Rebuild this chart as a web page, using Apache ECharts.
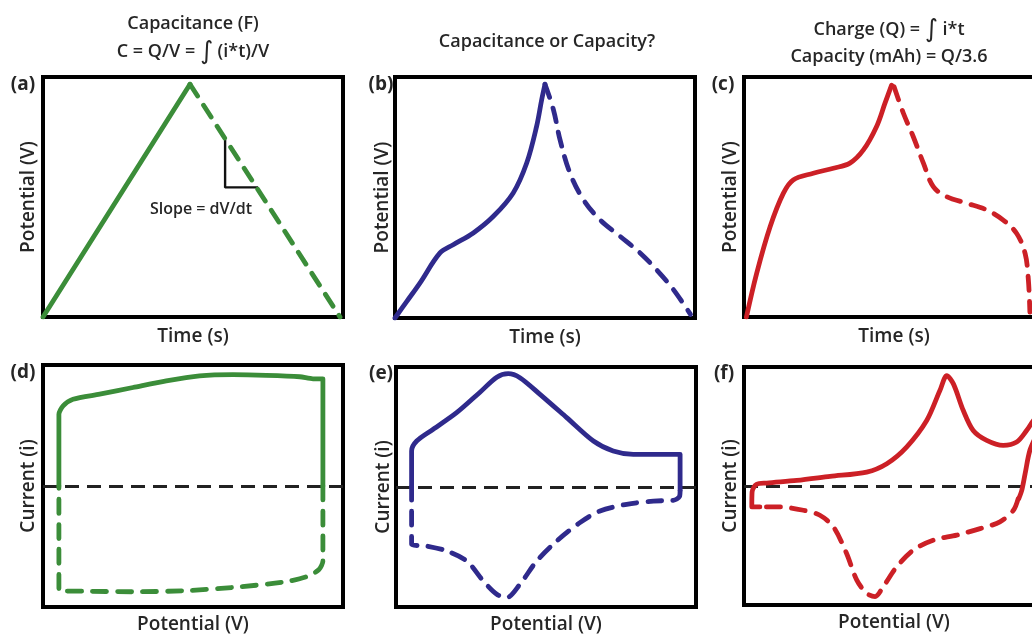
<!DOCTYPE html>
<html>
<head>
<meta charset="utf-8">
<script src="https://cdn.jsdelivr.net/npm/echarts@6/dist/echarts.min.js"></script>
<style>
  html, body { margin: 0; padding: 0; background: #fff; }
  #chart { width: 1032px; height: 634px; }
</style>
</head>
<body>
<div id="chart"></div>
<script>
// Galvanostatic charge (solid) / discharge (dashed) curves: [time, potential]
const chargeA = [[0.0, 0.0], [0.49, 0.97]];
const dischargeA = [[0.49, 0.97], [0.99, 0.0]];
const slopeMarkA = [[0.607, 0.74], [0.607, 0.54], [0.717, 0.54]];

const chargeB = [[0.0, 0.0], [0.04, 0.07], [0.083, 0.145], [0.15, 0.27], [0.194, 0.304],
  [0.261, 0.353], [0.328, 0.422], [0.394, 0.519], [0.439, 0.643], [0.472, 0.795],
  [0.489, 0.906], [0.5, 0.97]];
const dischargeB = [[0.5, 0.97], [0.528, 0.865], [0.55, 0.74], [0.583, 0.602], [0.628, 0.491],
  [0.683, 0.408], [0.75, 0.339], [0.817, 0.27], [0.872, 0.2], [0.928, 0.118], [0.985, 0.015]];

const chargeC = [[0.008, 0.0], [0.042, 0.181], [0.087, 0.376], [0.131, 0.515], [0.164, 0.571],
  [0.231, 0.599], [0.298, 0.62], [0.353, 0.641], [0.398, 0.696], [0.442, 0.794],
  [0.47, 0.891], [0.492, 0.966]];
const dischargeC = [[0.5, 0.96], [0.531, 0.85], [0.564, 0.752], [0.598, 0.641], [0.631, 0.543],
  [0.676, 0.501], [0.742, 0.474], [0.809, 0.446], [0.864, 0.404], [0.909, 0.348],
  [0.937, 0.265], [0.948, 0.153], [0.953, 0.02]];

// Cyclic voltammograms: anodic sweep (solid) / cathodic sweep (dashed): [potential, current]
const anodicD = [[0.053, 0.0], [0.053, 0.4], [0.053, 0.593], [0.067, 0.662], [0.1, 0.717],
  [0.189, 0.759], [0.3, 0.814], [0.411, 0.869], [0.522, 0.91], [0.633, 0.92],
  [0.744, 0.915], [0.856, 0.903], [0.9, 0.886], [0.933, 0.886], [0.933, 0.5], [0.933, 0.0]];
const cathodicD = [[0.933, 0.0], [0.933, -0.4], [0.933, -0.62], [0.92, -0.69], [0.878, -0.75],
  [0.8, -0.795], [0.633, -0.838], [0.467, -0.866], [0.3, -0.874], [0.133, -0.869],
  [0.053, -0.866], [0.053, -0.5], [0.053, 0.0]];

const anodicE = [[0.052, 0.0], [0.052, 0.2], [0.052, 0.3], [0.069, 0.383], [0.124, 0.481],
  [0.202, 0.619], [0.28, 0.79], [0.336, 0.915], [0.374, 0.944], [0.413, 0.911],
  [0.48, 0.772], [0.569, 0.578], [0.658, 0.383], [0.724, 0.3], [0.791, 0.272],
  [0.87, 0.272], [0.947, 0.272], [0.947, 0.1], [0.947, -0.03]];
const cathodicE = [[0.947, -0.03], [0.945, -0.08], [0.924, -0.111], [0.858, -0.117],
  [0.769, -0.144], [0.68, -0.2], [0.613, -0.297], [0.536, -0.45], [0.469, -0.617],
  [0.413, -0.811], [0.369, -0.922], [0.336, -0.894], [0.291, -0.783], [0.236, -0.617],
  [0.169, -0.533], [0.102, -0.492], [0.052, -0.478], [0.052, -0.25], [0.052, 0.0]];

const anodicF = [[0.053, -0.176], [0.026, -0.176], [0.027, -0.05], [0.042, 0.014],
  [0.076, 0.025], [0.176, 0.047], [0.287, 0.081], [0.409, 0.117], [0.476, 0.187],
  [0.542, 0.327], [0.609, 0.55], [0.653, 0.802], [0.676, 0.927], [0.698, 0.858],
  [0.731, 0.634], [0.764, 0.466], [0.809, 0.383], [0.864, 0.341], [0.909, 0.369],
  [0.942, 0.466], [0.97, 0.564], [0.992, 0.578], [0.981, 0.466], [0.953, 0.3],
  [0.937, 0.103], [0.926, -0.036], [0.916, -0.106]];
const cathodicF = [[0.914, -0.106], [0.898, -0.204], [0.853, -0.302], [0.787, -0.358],
  [0.709, -0.413], [0.631, -0.455], [0.564, -0.539], [0.509, -0.679], [0.464, -0.846],
  [0.437, -0.929], [0.409, -0.902], [0.376, -0.791], [0.342, -0.567], [0.298, -0.344],
  [0.253, -0.246], [0.198, -0.204], [0.12, -0.176], [0.053, -0.176]];

const GREEN = '#3b8d39';
const BLUE = '#2f2a8c';
const RED = '#cc2026';
const INK = '#262626';
const FONT = '"Open Sans", "Noto Sans", sans-serif';

const panels = [
  { left: 43, top: 77, width: 300, height: 240, yMin: 0, yMax: 1, xName: 'Time (s)', yName: 'Potential (V)', xGap: 10, yGap: 5 },
  { left: 395, top: 77, width: 300, height: 241, yMin: 0, yMax: 1, xName: 'Time (s)', yName: 'Potential (V)', xGap: 10, yGap: 3 },
  { left: 744, top: 77, width: 300, height: 240, yMin: 0, yMax: 1, xName: 'Time (s)', yName: 'Potential (V)', xGap: 10, yGap: 4 },
  { left: 43, top: 365, width: 300, height: 242, yMin: -1, yMax: 1, xName: 'Potential (V)', yName: 'Current (i)', xGap: 8, yGap: 5 },
  { left: 396, top: 367, width: 300, height: 240, yMin: -1, yMax: 1, xName: 'Potential (V)', yName: 'Current (i)', xGap: 8, yGap: 3 },
  { left: 744, top: 367, width: 300, height: 238, yMin: -1, yMax: 1, xName: 'Potential (V)', yName: 'Current (i)', xGap: 8, yGap: 4 }
];

const nameStyle = { color: INK, fontFamily: FONT, fontWeight: 600, fontSize: 19 };

const grid = panels.map(p => ({
  left: p.left, top: p.top, width: p.width, height: p.height,
  outerBoundsMode: 'none', containLabel: false,
  show: true, borderColor: '#000', borderWidth: 4, backgroundColor: 'transparent'
}));
const xAxis = panels.map((p, i) => ({
  type: 'value', gridIndex: i, min: 0, max: 1,
  axisLine: { show: false }, axisTick: { show: false }, axisLabel: { show: false },
  splitLine: { show: false },
  name: p.xName, nameLocation: 'middle', nameGap: p.xGap, nameTextStyle: nameStyle
}));
const yAxis = panels.map((p, i) => ({
  type: 'value', gridIndex: i, min: p.yMin, max: p.yMax,
  axisLine: { show: false }, axisTick: { show: false }, axisLabel: { show: false },
  splitLine: { show: false },
  name: p.yName, nameLocation: 'middle', nameGap: p.yGap, nameTextStyle: nameStyle
}));

function curve(idx, data, color, dashed, smooth) {
  return {
    type: 'line', xAxisIndex: idx, yAxisIndex: idx, data: data,
    showSymbol: false, symbol: 'none', smooth: smooth, silent: true,
    lineStyle: dashed
      ? { color: color, width: 4.8, type: [14, 11], cap: 'round', join: 'round' }
      : { color: color, width: 4.8, cap: 'round', join: 'round' },
    z: 3
  };
}
function zeroLine(series) {
  series.markLine = {
    silent: true, symbol: 'none', label: { show: false },
    lineStyle: { color: '#222', width: 2.8, type: [14, 8] },
    data: [{ yAxis: 0 }], z: 1
  };
  return series;
}

const series = [
  curve(0, chargeA, GREEN, false, false),
  curve(0, dischargeA, GREEN, true, false),
  { type: 'line', xAxisIndex: 0, yAxisIndex: 0, data: slopeMarkA, showSymbol: false, symbol: 'none',
    silent: true, lineStyle: { color: '#111', width: 2.4 }, z: 2 },
  curve(1, chargeB, BLUE, false, 0.35),
  curve(1, dischargeB, BLUE, true, 0.35),
  curve(2, chargeC, RED, false, 0.35),
  curve(2, dischargeC, RED, true, 0.35),
  zeroLine(curve(3, anodicD, GREEN, false, 0.25)),
  curve(3, cathodicD, GREEN, true, 0.25),
  zeroLine(curve(4, anodicE, BLUE, false, 0.3)),
  curve(4, cathodicE, BLUE, true, 0.3),
  zeroLine(curve(5, anodicF, RED, false, 0.3)),
  curve(5, cathodicF, RED, true, 0.3)
];

const richBase = {
  n: { fill: INK, fontFamily: FONT, fontWeight: 600, fontSize: 18 },
  s: { fill: INK, fontFamily: 'DejaVu Sans, sans-serif', fontWeight: 400, fontSize: 25 }
};

function text(x, y, str, size, weight) {
  return {
    type: 'text', x: x, y: y, silent: true,
    style: { text: str, fill: INK, fontFamily: FONT, fontWeight: weight || 600, fontSize: size,
      rich: richBase, textAlign: 'center', textVerticalAlign: 'middle' }
  };
}

const graphic = [
  text(193, 24, 'Capacitance (F)', 18),
  text(193, 52, '{n|C = Q/V = }{s|\u222B}{n| (i*t)/V}', 18),
  text(547, 42, 'Capacitance or Capacity?', 18),
  text(889, 30, '{n|Charge (Q) = }{s|\u222B}{n| i*t}', 18),
  text(889, 57, 'Capacity (mAh) = Q/3.6', 18),
  text(23, 85, '(a)', 19, 700),
  text(381, 85, '(b)', 19, 700),
  text(723, 85, '(c)', 19, 700),
  text(23, 373, '(d)', 19, 700),
  text(381, 374, '(e)', 19, 700),
  text(724, 374, '(f)', 19, 700),
  text(201, 209, 'Slope = dV/dt', 16)
];

const chart = echarts.init(document.getElementById('chart'), null, { renderer: 'canvas' });
chart.setOption({
  animation: false,
  backgroundColor: '#fff',
  grid: grid, xAxis: xAxis, yAxis: yAxis, series: series, graphic: graphic
});
</script>
</body>
</html>
